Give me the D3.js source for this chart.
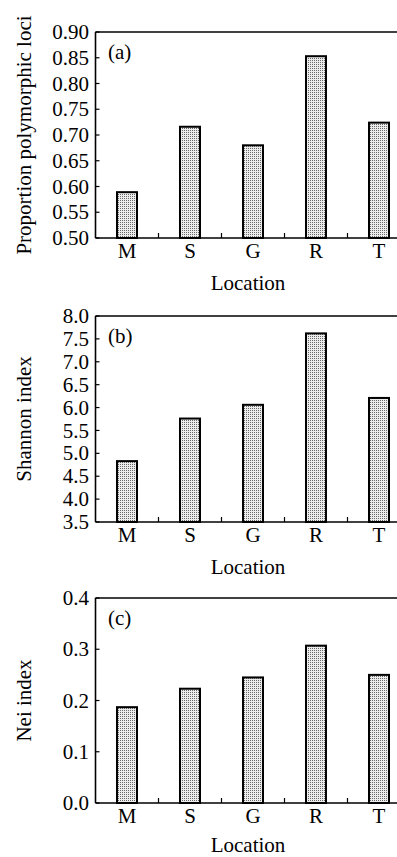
<!DOCTYPE html>
<html>
<meta charset="utf-8">
<head>
<script src="https://d3js.org/d3.v7.min.js"></script>
<style>
  body { margin: 0; background: #fff; }
  text { font-family: "Liberation Serif", "Times New Roman", serif; fill: #000; }
</style>
</head>
<body>
<div id="chart"></div>
<script>

var categories = ["M", "S", "G", "R", "T"];
var polymorphic = [0.589, 0.716, 0.680, 0.853, 0.724];
var shannon = [4.83, 5.76, 6.06, 7.62, 6.21];
var nei = [0.187, 0.223, 0.245, 0.307, 0.250];

var ticksA = [0.50, 0.55, 0.60, 0.65, 0.70, 0.75, 0.80, 0.85, 0.90];
var ticksB = [3.5, 4.0, 4.5, 5.0, 5.5, 6.0, 6.5, 7.0, 7.5, 8.0];
var ticksC = [0.0, 0.1, 0.2, 0.3, 0.4];

var W = 397, H = 857;
var svg = d3.select("#chart").append("svg")
    .attr("width", W).attr("height", H);

// dotted fill like the printed bars
var pat = svg.append("defs").append("pattern")
    .attr("id", "dots")
    .attr("patternUnits", "userSpaceOnUse")
    .attr("width", 2).attr("height", 2);
pat.append("rect").attr("width", 2).attr("height", 2).attr("fill", "#ececec");
pat.append("rect").attr("width", 1).attr("height", 1).attr("fill", "#6a6a6a");

var panels = [
    {values: polymorphic, ticks: ticksA, fmt: d3.format(".2f"), domain: [0.5, 0.9],
     top: 32, bottom: 238, title: "Proportion polymorphic loci", tag: "(a)"},
    {values: shannon, ticks: ticksB, fmt: d3.format(".1f"), domain: [3.5, 8.0],
     top: 316, bottom: 522, title: "Shannon index", tag: "(b)"},
    {values: nei, ticks: ticksC, fmt: d3.format(".1f"), domain: [0, 0.4],
     top: 598, bottom: 803, title: "Nei index", tag: "(c)"}
];

var left = 95.5, step = 63, barW = 20, fs = 21;

panels.forEach(function(p) {
    var g = svg.append("g");
    var x = d3.scaleBand().domain(categories)
        .range([left, left + step * categories.length]).padding(0);
    var y = d3.scaleLinear().domain(p.domain).range([p.bottom, p.top]);

    // bars
    g.selectAll("rect.bar")
        .data(p.values)
      .enter()
        .append("rect")
        .attr("class", "bar")
        .attr("x", function(d, i){ return x(categories[i]) + (x.bandwidth() - barW) / 2; })
        .attr("y", function(d){ return y(d); })
        .attr("width", barW)
        .attr("height", function(d){ return p.bottom - y(d); })
        .attr("fill", "url(#dots)")
        .attr("stroke", "#000")
        .attr("stroke-width", 2);

    // frame: left, top, bottom
    g.append("line").attr("x1", left).attr("x2", left)
        .attr("y1", p.top).attr("y2", p.bottom)
        .attr("stroke", "#000").attr("stroke-width", 1.6);
    g.append("line").attr("x1", left).attr("x2", W + 10)
        .attr("y1", p.top).attr("y2", p.top)
        .attr("stroke", "#000").attr("stroke-width", 1.6);
    g.append("line").attr("x1", left).attr("x2", W + 10)
        .attr("y1", p.bottom).attr("y2", p.bottom)
        .attr("stroke", "#000").attr("stroke-width", 1.6);

    // y ticks (inward) and labels
    g.selectAll("line.ytick").data(p.ticks).enter().append("line")
        .attr("x1", left).attr("x2", left + 4)
        .attr("y1", function(d){ return y(d); })
        .attr("y2", function(d){ return y(d); })
        .attr("stroke", "#000").attr("stroke-width", 1.2);
    g.selectAll("text.ylab").data(p.ticks).enter().append("text")
        .attr("x", 89)
        .attr("y", function(d){ return y(d); })
        .attr("dy", "0.34em")
        .attr("text-anchor", "end")
        .style("font-size", fs + "px")
        .text(function(d){ return p.fmt(d); });

    // x ticks between categories (upward)
    g.selectAll("line.xtick").data(categories.slice(1)).enter().append("line")
        .attr("x1", function(d){ return x(d); })
        .attr("x2", function(d){ return x(d); })
        .attr("y1", p.bottom).attr("y2", p.bottom - 5)
        .attr("stroke", "#000").attr("stroke-width", 1.2);
    g.selectAll("text.xlab").data(categories).enter().append("text")
        .attr("x", function(d){ return x(d) + x.bandwidth() / 2; })
        .attr("y", p.bottom + 20)
        .attr("text-anchor", "middle")
        .style("font-size", fs + "px")
        .text(function(d){ return d; });

    // axis titles
    g.append("text")
        .attr("x", 248).attr("y", Math.min(p.bottom + 52, H - 5))
        .attr("text-anchor", "middle")
        .style("font-size", fs + "px")
        .text("Location");
    g.append("text")
        .attr("transform", "translate(31," + ((p.top + p.bottom) / 2) + ") rotate(-90)")
        .attr("text-anchor", "middle")
        .style("font-size", fs + "px")
        .text(p.title);

    // panel tag
    g.append("text")
        .attr("x", 108).attr("y", p.top + 27)
        .style("font-size", fs + "px")
        .text(p.tag);
});

</script>
</body>
</html>
